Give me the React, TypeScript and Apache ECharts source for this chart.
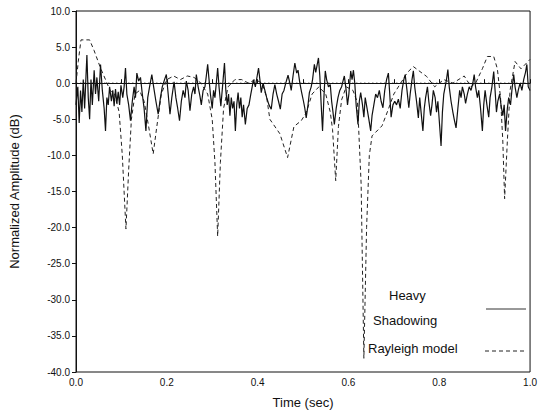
import React, { useEffect, useRef } from "react";
import * as echarts from "echarts";

const solidTime = [
  0.000, 0.004, 0.007, 0.010, 0.013, 0.016, 0.019, 0.022, 0.024, 0.027, 0.030, 0.033, 0.036, 0.040, 0.043, 0.046, 0.050, 0.054, 0.058, 0.062,
  0.065, 0.068, 0.071, 0.074, 0.078, 0.081, 0.084, 0.087, 0.090, 0.093, 0.096, 0.099, 0.103, 0.106, 0.109, 0.112, 0.116, 0.120, 0.124, 0.128,
  0.131, 0.134, 0.138, 0.142, 0.146, 0.150, 0.154, 0.158, 0.162, 0.167, 0.171, 0.176, 0.181, 0.186, 0.190, 0.195, 0.199, 0.203, 0.207, 0.211,
  0.216, 0.220, 0.224, 0.228, 0.232, 0.236, 0.240, 0.243, 0.247, 0.251, 0.255, 0.259, 0.262, 0.265, 0.269, 0.273, 0.276, 0.280, 0.284, 0.287,
  0.290, 0.293, 0.296, 0.300, 0.303, 0.306, 0.309, 0.312, 0.315, 0.319, 0.322, 0.324, 0.327, 0.330, 0.333, 0.336, 0.339, 0.342, 0.345, 0.348,
  0.351, 0.354, 0.357, 0.360, 0.363, 0.366, 0.369, 0.373, 0.377, 0.381, 0.385, 0.388, 0.391, 0.395, 0.399, 0.402, 0.405, 0.408, 0.412, 0.416,
  0.420, 0.425, 0.430, 0.434, 0.438, 0.442, 0.446, 0.450, 0.454, 0.458, 0.462, 0.467, 0.471, 0.474, 0.478, 0.482, 0.486, 0.489, 0.493, 0.497,
  0.501, 0.504, 0.507, 0.511, 0.514, 0.518, 0.521, 0.525, 0.528, 0.531, 0.534, 0.537, 0.540, 0.543, 0.546, 0.549, 0.552, 0.556, 0.560, 0.563,
  0.566, 0.569, 0.573, 0.577, 0.581, 0.585, 0.588, 0.591, 0.595, 0.598, 0.601, 0.605, 0.608, 0.611, 0.614, 0.617, 0.621, 0.624, 0.627, 0.631,
  0.634, 0.637, 0.641, 0.645, 0.649, 0.652, 0.656, 0.660, 0.664, 0.668, 0.672, 0.676, 0.680, 0.684, 0.688, 0.691, 0.694, 0.698, 0.702, 0.706,
  0.710, 0.714, 0.718, 0.722, 0.725, 0.729, 0.733, 0.736, 0.740, 0.743, 0.746, 0.750, 0.754, 0.757, 0.760, 0.764, 0.767, 0.770, 0.774, 0.777,
  0.781, 0.784, 0.787, 0.791, 0.794, 0.797, 0.801, 0.804, 0.807, 0.810, 0.813, 0.816, 0.819, 0.822, 0.826, 0.830, 0.833, 0.837, 0.841, 0.845,
  0.848, 0.851, 0.855, 0.858, 0.862, 0.866, 0.870, 0.874, 0.877, 0.880, 0.884, 0.887, 0.891, 0.895, 0.898, 0.901, 0.905, 0.909, 0.912, 0.916,
  0.920, 0.923, 0.926, 0.929, 0.933, 0.936, 0.940, 0.943, 0.946, 0.950, 0.953, 0.957, 0.960, 0.964, 0.967, 0.971, 0.974, 0.978, 0.982, 0.986,
  0.990, 0.993, 0.996, 1.000,
];

const solidAmp = [
  -3.0, -0.5, -5.5, -1.0, -4.0, 0.5, -3.5, 1.0, 3.9, -2.0, -5.0, 0.5, -3.0, 1.8, -1.5, 0.8, -2.5, 2.6, -1.0, -3.5,
  -6.6, -2.0, -3.0, -0.5, -2.5, -1.0, -3.2, -0.8, -2.8, -1.2, -3.0, -0.3, -2.0, -0.5, 2.1, -1.5, -3.0, -5.2, -2.5, -0.5,
  -2.0, 1.4, 0.3, 0.8, -1.5, -3.5, -6.6, -2.0, -0.5, 1.2, -0.5, -2.5, -4.3, -2.0, -0.5, 0.5, 1.2, -1.5, -4.3, -2.0,
  0.2, -2.0, -3.5, -5.2, -2.5, -1.0, -2.0, 0.3, -1.0, -3.8, -1.5, -0.5, -1.5, 1.2, -0.5, -1.8, -3.0, -1.0, -0.5, 1.0,
  2.6, 0.5, -1.5, -3.5, -1.0, -2.0, 0.0, 2.1, -0.5, -3.2, -1.0, 0.5, 2.8, -1.0, -3.0, -1.5, -4.5, -2.0, -3.5, -2.5,
  -6.6, -3.0, -1.3, -3.5, -2.0, -4.7, -3.0, -5.7, -3.5, -3.0, -1.5, -0.5, 0.5, -0.5, 1.0, 2.1, 0.5, -1.3, 0.0, -1.0,
  -2.0, -3.0, -3.6, -1.5, -0.2, -1.5, -2.5, -3.6, -1.5, -1.0, 0.0, 1.1, 0.0, -1.0, 1.0, 2.8, 1.4, 1.8, 0.0, -1.3,
  -2.5, -3.5, -4.8, -3.0, -1.3, -0.5, 0.5, 2.6, 1.5, 2.5, 3.5, 1.0, -3.0, -6.6, -2.0, 1.7, 0.5, -0.5, -0.2, -2.5,
  -4.0, -5.7, -3.5, -2.0, -1.0, -0.5, 0.3, 1.0, -1.0, -3.0, -1.5, 1.7, 0.5, 1.8, 0.0, -3.0, -5.7, -2.5, -1.3, -3.0,
  -4.7, -2.0, -3.5, -5.0, -6.6, -4.5, -3.0, -1.5, -2.0, -1.0, -2.5, -3.4, -1.0, 0.5, 1.4, -1.5, -4.7, -3.0, -2.5, -3.0,
  -2.2, -3.5, -1.0, 0.5, 1.2, -1.0, -3.4, -1.5, 0.5, 1.7, -0.5, -2.5, -4.8, -2.0, -4.0, -6.6, -3.5, -2.0, -0.5, -2.5,
  -4.5, -3.0, -1.0, -2.0, -4.0, -2.5, -6.0, -8.7, -4.0, -1.5, -0.5, 0.5, 1.9, -0.5, -2.5, -4.0, -5.0, -6.2, -3.5, -1.0,
  -2.0, -0.5, -1.5, -2.8, -1.5, -0.5, -1.0, 0.0, 1.2, -0.5, -2.0, -1.0, -3.5, -6.6, -3.0, -1.0, -3.0, -4.7, -2.0, -0.5,
  1.6, -1.0, -4.0, -2.5, -1.5, -3.0, -4.5, -3.0, -6.6, -3.5, -2.0, -3.0, -1.0, 1.2, -0.5, -2.0, -1.0, 0.0, -1.0, 0.5,
  1.5, 2.6, -0.5, -1.0,
];

const rayleighTime = [
  0.000, 0.005, 0.011, 0.030, 0.040, 0.054, 0.065, 0.075, 0.085, 0.095, 0.102, 0.110, 0.116, 0.122, 0.130, 0.140, 0.150, 0.160, 0.170, 0.178,
  0.188, 0.200, 0.215, 0.230, 0.245, 0.260, 0.275, 0.290, 0.300, 0.306, 0.312, 0.318, 0.325, 0.335, 0.350, 0.365, 0.380, 0.395, 0.410, 0.420,
  0.427, 0.449, 0.466, 0.480, 0.496, 0.507, 0.520, 0.535, 0.550, 0.560, 0.565, 0.572, 0.578, 0.585, 0.595, 0.610, 0.620, 0.628, 0.634, 0.640,
  0.646, 0.652, 0.674, 0.688, 0.700, 0.715, 0.730, 0.743, 0.760, 0.772, 0.790, 0.810, 0.830, 0.855, 0.870, 0.880, 0.895, 0.906, 0.920, 0.928,
  0.935, 0.940, 0.944, 0.950, 0.956, 0.967, 0.980, 1.000,
];

const rayleighAmp = [
  0.0, 3.0, 6.0, 6.0, 4.5, 2.1, 0.5, -1.0, -1.5, -4.0, -10.0, -20.2, -12.0, -5.0, -1.5, -1.0, -2.5, -6.0, -9.8, -6.0,
  -1.5, 0.5, 1.0, 0.5, 1.0, 0.8, 0.0, -1.5, -5.0, -11.0, -21.2, -11.0, -3.5, -0.5, 0.5, 0.5, 0.0, 0.5, 0.0, -2.0,
  -5.0, -7.0, -10.3, -6.0, -5.2, -4.1, -1.5, -0.5, -1.5, -4.0, -6.4, -13.5, -6.0, -2.3, -0.5, -1.0, -2.7, -14.0, -38.1, -20.0,
  -10.0, -7.3, -5.9, -3.6, -1.5, 0.0, 1.5, 2.3, 1.5, 0.95, -0.5, 0.5, 0.0, 1.0, -0.5, 0.0, 2.0, 3.7, 3.7, 2.0,
  -2.0, -8.0, -16.0, -8.0, -1.0, 3.0, 2.0, 3.3,
];

const zeroLineTime = [0, 1];
const zeroLineAmp = [0, 0];

const yTicks = [10, 5, 0, -5, -10, -15, -20, -25, -30, -35, -40];
const xTicks = [0.0, 0.2, 0.4, 0.6, 0.8, 1.0];

const FONT = "Liberation Sans, Arial, sans-serif";

export default function App() {
  const ref = useRef<HTMLDivElement>(null);
  useEffect(() => {
    if (!ref.current) return;
    const chart = echarts.init(ref.current, null, { renderer: "svg" });
    const solid = solidTime.map((t, i) => [t, solidAmp[i]]);
    const ray = rayleighTime.map((t, i) => [t, rayleighAmp[i]]);
    const zero = zeroLineTime.map((t, i) => [t, zeroLineAmp[i]]);
    chart.setOption({
      animation: false,
      backgroundColor: "#ffffff",
      grid: { left: 70, right: 8, top: 11, bottom: 40, show: true, borderColor: "#111", borderWidth: 1, backgroundColor: "transparent" },
      xAxis: {
        type: "value",
        min: 0,
        max: 1,
        interval: 0.2,
        name: "Time (sec)",
        nameLocation: "middle",
        nameGap: 24,
        nameTextStyle: { fontFamily: FONT, fontSize: 13, color: "#111" },
        axisLine: { show: true, lineStyle: { color: "#111", width: 1 } },
        axisTick: { show: true, inside: true, length: 4, lineStyle: { color: "#111" } },
        minorTick: { show: true, splitNumber: 2, length: 4, lineStyle: { color: "#111" } },
        splitLine: { show: false },
        axisLabel: {
          fontFamily: FONT,
          fontSize: 10,
          color: "#111",
          margin: 5,
          formatter: (v: number) => {
            const m = xTicks.find((x) => Math.abs(x - v) < 1e-6);
            return m === undefined ? "" : m.toFixed(1);
          },
        },
      },
      yAxis: {
        type: "value",
        min: -40,
        max: 10,
        interval: 5,
        name: "Normalized Amplitude (dB)",
        nameLocation: "middle",
        nameGap: 55,
        nameTextStyle: { fontFamily: FONT, fontSize: 13, color: "#111" },
        axisLine: { show: true, lineStyle: { color: "#111", width: 1 } },
        axisTick: { show: true, length: 4, lineStyle: { color: "#111" } },
        splitLine: { show: false },
        axisLabel: {
          fontFamily: FONT,
          fontSize: 10,
          color: "#111",
          margin: 6,
          formatter: (v: number) => {
            const m = yTicks.find((y) => Math.abs(y - v) < 1e-6);
            return m === undefined ? "" : m.toFixed(1);
          },
        },
      },
      series: [
        {
          name: "Zero",
          type: "line",
          data: zero,
          showSymbol: false,
          silent: true,
          lineStyle: { color: "#111", width: 1, type: [1.5, 2.5] },
          z: 1,
        },
        {
          name: "Rayleigh model",
          type: "line",
          data: ray,
          showSymbol: false,
          smooth: false,
          lineStyle: { color: "#222", width: 1, type: [4, 3] },
          z: 2,
        },
        {
          name: "Heavy Shadowing",
          type: "line",
          data: solid,
          showSymbol: false,
          smooth: false,
          lineStyle: { color: "#111", width: 1.2 },
          z: 3,
        },
      ],
      graphic: [
        { type: "text", left: 389, top: 289, style: { text: "Heavy", font: `13px ${FONT}`, fill: "#111" } },
        { type: "text", left: 373, top: 314, style: { text: "Shadowing", font: `13px ${FONT}`, fill: "#111" } },
        { type: "line", shape: { x1: 486, y1: 309, x2: 526, y2: 309 }, style: { stroke: "#333", lineWidth: 1 } },
        { type: "text", left: 368, top: 342, style: { text: "Rayleigh model", font: `13px ${FONT}`, fill: "#111" } },
        { type: "line", shape: { x1: 485, y1: 351, x2: 526, y2: 351 }, style: { stroke: "#222", lineWidth: 1, lineDash: [4, 3] } },
      ],
    });
    return () => chart.dispose();
  }, []);
  return <div ref={ref} style={{ width: 540, height: 414, position: "absolute", left: 0, top: 0 }} />;
}
